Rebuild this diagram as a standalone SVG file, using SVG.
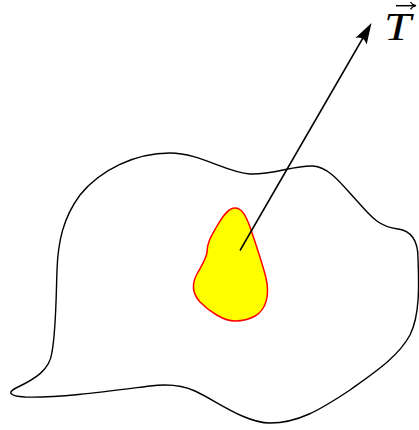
<svg xmlns="http://www.w3.org/2000/svg" width="419" height="430" viewBox="0 0 419 430">
<style>
.outline{fill:none;stroke:#000;stroke-width:1.4;stroke-linejoin:round}
.region{fill:#ffff00;stroke:#ff0000;stroke-width:1.5}
.conn{stroke:#000;stroke-width:1.5;fill:none}
.head{fill:#000;stroke:none}
.lbl{font-family:"Liberation Serif","DejaVu Serif",serif;font-style:italic;font-size:40px;fill:#000}
</style>
<rect width="419" height="430" fill="#fff"/>
<g id="body">
<path class="outline" d="M 170,153 C 200,153 225,172 250,174 C 272,175 295,165 313,166 C 330,167 343,186 358,202 C 372,218 380,227 398,229 C 412,231 418,242 418,258 C 419,285 420,315 410,335 C 398,357 375,372 350,390 C 320,410 298,423 270,423 C 245,423 215,400 195,391 C 180,384 165,384 150,386 C 110,391 60,398 25,397 C 8,396 8,392 16,388 C 35,379 50,370 52,352 C 56,330 56,300 57,270 C 58,242 63,218 80,195 C 100,170 135,153 170,153 Z"/>
</g>
<g id="region">
<path class="region" d="M 235,208 C 242,208 246,216 250,227 C 255,242 262,262 266,278 C 270,295 266,310 255,316 C 248,320 242,321 235,321 C 224,321 210,312 200,302 C 192,293 192,283 197,274 C 203,263 207,257 207,252 C 207,242 212,235 217,226 C 224,214 229,208 235,208 Z"/>
</g>
<g id="connectors">
<line class="conn" x1="240" y1="250.5" x2="363.5" y2="37"/>
<path class="head" d="M0,0 L-21,-6.5 Q-15,0 -21,6.5 Z" transform="translate(371.5,23) rotate(-60)"/>
</g>
<g id="label-T">
<text class="lbl" x="384" y="39.5" textLength="27" lengthAdjust="spacingAndGlyphs">T</text>
<line class="conn" x1="396" y1="5.7" x2="415" y2="5.7" stroke-width="1.2"/>
<path d="M410.5,2 Q412,4.8 416,5.7 Q412,6.6 410.5,9.4" fill="none" stroke="#000" stroke-width="1.2"/>
</g>
</svg>
